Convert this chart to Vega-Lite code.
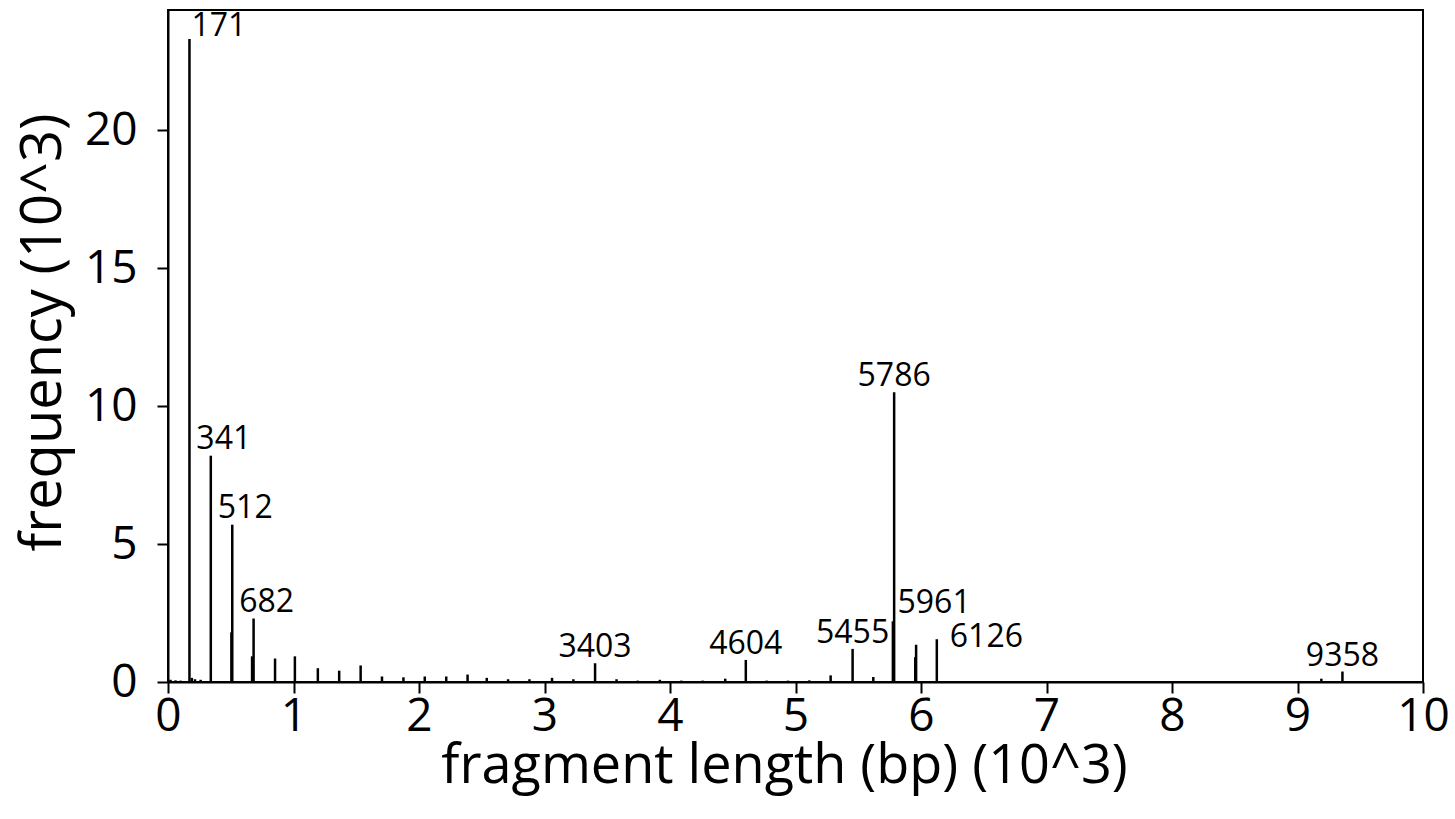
{
  "$schema": "https://vega.github.io/schema/vega-lite/v6.json",
  "autosize": "none",
  "width": 1255,
  "height": 672,
  "padding": {"left": 168, "top": 10, "right": 32, "bottom": 137},
  "background": "white",
  "config": {
    "view": {"stroke": "black", "strokeWidth": 2},
    "font": "Open Sans",
    "axis": {
      "domainColor": "black",
      "domainWidth": 2,
      "tickColor": "black",
      "tickWidth": 2,
      "tickSize": 11,
      "grid": false,
      "labelFont": "Open Sans",
      "labelFontSize": 46,
      "labelColor": "black",
      "titleFont": "Open Sans",
      "titleFontWeight": "normal",
      "titleColor": "black"
    }
  },
  "data": {
    "values": [
      {"length": 0.02, "freq": 0.08, "label": ""},
      {"length": 0.06, "freq": 0.06, "label": ""},
      {"length": 0.1, "freq": 0.05, "label": ""},
      {"length": 0.171, "freq": 23.3, "label": "171"},
      {"length": 0.19, "freq": 0.15, "label": ""},
      {"length": 0.215, "freq": 0.1, "label": ""},
      {"length": 0.26, "freq": 0.08, "label": ""},
      {"length": 0.341, "freq": 8.2, "label": "341"},
      {"length": 0.505, "freq": 1.8, "label": ""},
      {"length": 0.512, "freq": 5.7, "label": "512"},
      {"length": 0.67, "freq": 0.93, "label": ""},
      {"length": 0.682, "freq": 2.3, "label": "682"},
      {"length": 0.853, "freq": 0.85, "label": ""},
      {"length": 1.011, "freq": 0.93, "label": ""},
      {"length": 1.194, "freq": 0.5, "label": ""},
      {"length": 1.364, "freq": 0.41, "label": ""},
      {"length": 1.535, "freq": 0.6, "label": ""},
      {"length": 1.705, "freq": 0.2, "label": ""},
      {"length": 1.876, "freq": 0.17, "label": ""},
      {"length": 2.046, "freq": 0.2, "label": ""},
      {"length": 2.217, "freq": 0.2, "label": ""},
      {"length": 2.387, "freq": 0.27, "label": ""},
      {"length": 2.54, "freq": 0.15, "label": ""},
      {"length": 2.71, "freq": 0.1, "label": ""},
      {"length": 2.88, "freq": 0.1, "label": ""},
      {"length": 3.06, "freq": 0.15, "label": ""},
      {"length": 3.23, "freq": 0.1, "label": ""},
      {"length": 3.403, "freq": 0.68, "label": "3403"},
      {"length": 3.574, "freq": 0.1, "label": ""},
      {"length": 3.743, "freq": 0.05, "label": ""},
      {"length": 3.919, "freq": 0.08, "label": ""},
      {"length": 4.09, "freq": 0.05, "label": ""},
      {"length": 4.26, "freq": 0.05, "label": ""},
      {"length": 4.44, "freq": 0.12, "label": ""},
      {"length": 4.604, "freq": 0.8, "label": "4604"},
      {"length": 4.77, "freq": 0.05, "label": ""},
      {"length": 4.94, "freq": 0.05, "label": ""},
      {"length": 5.11, "freq": 0.06, "label": ""},
      {"length": 5.28, "freq": 0.24, "label": ""},
      {"length": 5.455, "freq": 1.2, "label": "5455"},
      {"length": 5.62, "freq": 0.18, "label": ""},
      {"length": 5.776, "freq": 2.2, "label": ""},
      {"length": 5.786, "freq": 10.5, "label": "5786"},
      {"length": 5.954, "freq": 0.9, "label": ""},
      {"length": 5.961, "freq": 1.35, "label": "5961"},
      {"length": 6.126, "freq": 1.55, "label": "6126"},
      {"length": 9.19, "freq": 0.12, "label": ""},
      {"length": 9.358, "freq": 0.38, "label": "9358"}
    ]
  },
  "layer": [
    {
      "mark": {"type": "rule", "color": "black", "strokeWidth": 2.5},
      "encoding": {
        "x": {
          "field": "length",
          "type": "quantitative",
          "scale": {"domain": [0, 10], "nice": false, "zero": false},
          "axis": {
            "values": [0, 1, 2, 3, 4, 5, 6, 7, 8, 9, 10],
            "format": "d",
            "title": "fragment length (bp) (10^3)",
            "titleFontSize": 54,
            "labelPadding": 1,
            "titlePadding": 0,
            "titleX": 616,
            "labelFlush": false
          }
        },
        "y": {
          "field": "freq",
          "type": "quantitative",
          "scale": {"domain": [0, 24.35], "nice": false},
          "axis": {
            "values": [0, 5, 10, 15, 20],
            "format": "d",
            "title": "frequency (10^3)",
            "titleFontSize": 56,
            "labelPadding": 20,
            "titleX": -96,
            "titleY": 322,
            "labelFlush": false
          }
        },
        "y2": {"datum": 0}
      }
    },
    {
      "transform": [{"filter": "indexof(['3403','4604','5455','5786','9358'], datum.label) >= 0"}],
      "mark": {"type": "text", "font": "Open Sans", "fontSize": 32, "align": "center", "baseline": "alphabetic", "dy": -6, "color": "black"},
      "encoding": {
        "x": {"field": "length", "type": "quantitative"},
        "y": {"field": "freq", "type": "quantitative"},
        "text": {"field": "label"}
      }
    },
    {
      "transform": [{"filter": "indexof(['341','512','682'], datum.label) >= 0"}],
      "mark": {"type": "text", "font": "Open Sans", "fontSize": 32, "align": "center", "baseline": "alphabetic", "dx": 13, "dy": -7, "color": "black"},
      "encoding": {
        "x": {"field": "length", "type": "quantitative"},
        "y": {"field": "freq", "type": "quantitative"},
        "text": {"field": "label"}
      }
    },
    {
      "transform": [{"filter": "datum.label == '171'"}],
      "mark": {"type": "text", "font": "Open Sans", "fontSize": 32, "align": "left", "baseline": "alphabetic", "dx": 2, "dy": -3, "color": "black"},
      "encoding": {
        "x": {"field": "length", "type": "quantitative"},
        "y": {"field": "freq", "type": "quantitative"},
        "text": {"field": "label"}
      }
    },
    {
      "transform": [{"filter": "datum.label == '5961'"}],
      "mark": {"type": "text", "font": "Open Sans", "fontSize": 32, "align": "center", "baseline": "alphabetic", "dx": 18, "dy": -32, "color": "black"},
      "encoding": {
        "x": {"field": "length", "type": "quantitative"},
        "y": {"field": "freq", "type": "quantitative"},
        "text": {"field": "label"}
      }
    },
    {
      "transform": [{"filter": "datum.label == '6126'"}],
      "mark": {"type": "text", "font": "Open Sans", "fontSize": 32, "align": "left", "baseline": "alphabetic", "dx": 13, "dy": 8, "color": "black"},
      "encoding": {
        "x": {"field": "length", "type": "quantitative"},
        "y": {"field": "freq", "type": "quantitative"},
        "text": {"field": "label"}
      }
    }
  ]
}
